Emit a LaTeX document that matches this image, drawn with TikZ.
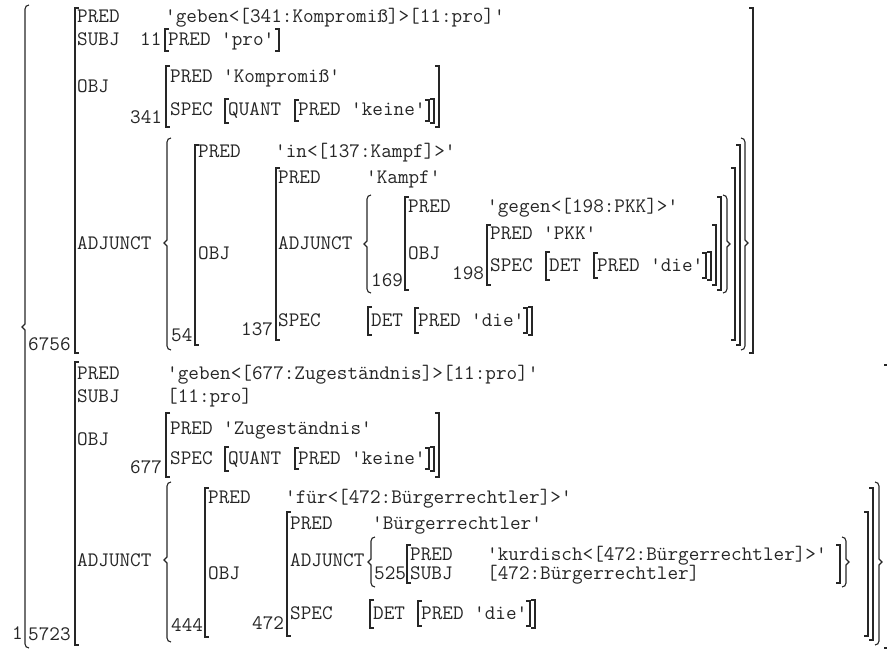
\documentclass[tikz,border=0pt]{standalone}
\usepackage{tikz}
\newcommand\myLB[3]{\draw[br] ({#1+4},#2) -| (#1,#3) -- ({#1+4},#3);}
\newcommand\myRB[3]{\draw[br] ({#1-4},#2) -| (#1,#3) -- ({#1-4},#3);}
\newcommand\myLC[4]{\draw[br] ({#1+4},#2) to[out=180,in=90] (#1,{#2+4}) -- (#1,{#4-3}) -- ({#1-3},#4) -- (#1,{#4+3}) -- (#1,{#3-4}) to[out=-90,in=180] ({#1+4},#3);}
\newcommand\myRC[4]{\draw[br] ({#1-4},#2) to[out=0,in=90] (#1,{#2+4}) -- (#1,{#4-3}) -- ({#1+3},#4) -- (#1,{#4+3}) -- (#1,{#3-4}) to[out=-90,in=0] ({#1-4},#3);}
\begin{document}
\begin{tikzpicture}[x=1pt,y=-1pt,
  t/.style={inner sep=0pt,anchor=base west,yshift=-6pt,text=black!85,font=\fontsize{20.6}{24}\selectfont\ttfamily},
  br/.style={line width=1.1pt,draw=black!85,line join=miter}]
\useasboundingbox (0,0) rectangle (887,650);
% outer brace
\myLC{25}{5}{648}{327}
\node[t] (one) at (12,633) {1};
% ===== top f-structure 6756 =====
\node[t] (n6756) at (28,344) {6756};
\myLB{75}{8}{353}
\node[t] (a1) at (77,17) {PRED};
\node[t] (a1v) at (165,17) {'geben<[341:Kompromiß]>[11:pro]'};
\node[t] (a2) at (77,40) {SUBJ};
\node[t] (n11) at (140,40) {11};
\myLB{165}{29}{51}
\node[t] (a2v) at (168,40) {PRED 'pro'};
\myRB{279}{29}{51}
\node[t] (a3) at (77,87) {OBJ};
\node[t] (n341) at (130,118) {341};
\myLB{166}{66}{127}
\node[t] (b1) at (170,77) {PRED 'Kompromiß'};
\node[t] (b2) at (170,110) {SPEC};
\myLB{225}{99}{123}
\node[t] (b3) at (228,110) {QUANT};
\myLB{295}{100}{121}
\node[t] (b4) at (298,110) {PRED 'keine'};
\myRB{429}{100}{121}
\myRB{434}{99}{123}
\myRB{439}{66}{127}
\node[t] (a4) at (77,243) {ADJUNCT};
\myLC{167}{138}{350}{243}
\node[t] (n54) at (171,335) {54};
\myLB{195}{145}{345}
\node[t] (c1) at (198,152) {PRED};
\node[t] (c1v) at (275,152) {'in<[137:Kampf]>'};
\node[t] (c2) at (198,253) {OBJ};
\node[t] (n137) at (241,329) {137};
\myLB{276}{168}{340}
\node[t] (d1) at (278,178) {PRED};
\node[t] (d1v) at (366,178) {'Kampf'};
\node[t] (d2) at (278,244) {ADJUNCT};
\myLC{367}{195}{293}{244}
\node[t] (n169) at (371,280) {169};
\myLB{405}{197}{290}
\node[t] (e1) at (408,207) {PRED};
\node[t] (e1v) at (487,207) {'gegen<[198:PKK]>'};
\node[t] (e2) at (408,253) {OBJ};
\node[t] (n198) at (452,273) {198};
\myLB{487}{225}{285}
\node[t] (f1) at (490,234) {PRED 'PKK'};
\node[t] (f2) at (490,265) {SPEC};
\myLB{546}{252}{280}
\node[t] (f3) at (549,265) {DET};
\myLB{594}{253}{278}
\node[t] (f4) at (597,265) {PRED 'die'};
\myRB{706}{253}{278}
\myRB{711}{252}{280}
\myRB{716}{225}{285}
\myRB{721}{197}{290}
\myRC{727}{195}{293}{244}
\node[t] (d3) at (278,320) {SPEC};
\myLB{368}{307}{335}
\node[t] (g1) at (371,320) {DET};
\myLB{415}{308}{333}
\node[t] (g2) at (418,320) {PRED 'die'};
\myRB{527}{308}{333}
\myRB{532}{307}{335}
\myRB{735}{168}{340}
\myRB{740}{145}{345}
\myRC{745}{138}{350}{243}
\myRB{753}{8}{353}
% ===== bottom f-structure 5723 =====
\node[t] (n5723) at (28,634) {5723};
\myLB{75}{362}{645}
\node[t] (h1) at (77,373) {PRED};
\node[t] (h1v) at (167,373) {'geben<[677:Zugeständnis]>[11:pro]'};
\node[t] (h2) at (77,396) {SUBJ};
\node[t] (h2v) at (167,396) {[11:pro]};
\node[t] (h3) at (77,439) {OBJ};
\node[t] (n677) at (130,467) {677};
\myLB{166}{413}{477}
\node[t] (i1) at (170,428) {PRED 'Zugeständnis'};
\node[t] (i2) at (170,458) {SPEC};
\myLB{225}{447}{471}
\node[t] (i3) at (228,458) {QUANT};
\myLB{295}{448}{469}
\node[t] (i4) at (298,458) {PRED 'keine'};
\myRB{429}{448}{469}
\myRB{434}{447}{471}
\myRB{439}{413}{477}
\node[t] (h4) at (77,560) {ADJUNCT};
\myLC{167}{482}{642}{560}
\node[t] (n444) at (171,625) {444};
\myLB{205}{488}{637}
\node[t] (j1) at (208,497) {PRED};
\node[t] (j1v) at (285,497) {'für<[472:Bürgerrechtler]>'};
\node[t] (j2) at (208,573) {OBJ};
\node[t] (n472) at (252,623) {472};
\myLB{287}{512}{636}
\node[t] (k1) at (290,523) {PRED};
\node[t] (k1v) at (372,523) {'Bürgerrechtler'};
\node[t] (k2) at (290,560) {ADJUNCT};
\myLC{371}{537}{587}{562}
\node[t] (n525) at (374,573) {525};
\myLB{407}{545}{583}
\node[t] (l1) at (410,554) {PRED};
\node[t] (l1v) at (487,554) {'kurdisch<[472:Bürgerrechtler]>'};
\node[t] (l2) at (410,573) {SUBJ};
\node[t] (l2v) at (487,573) {[472:Bürgerrechtler]};
\node[t] (k3) at (290,613) {SPEC};
\myLB{370}{600}{628}
\node[t] (m1) at (373,613) {DET};
\myLB{418}{601}{626}
\node[t] (m2) at (421,613) {PRED 'die'};
\myRB{530}{601}{626}
\myRB{535}{600}{628}
\myRB{840}{545}{583}
\myRC{846}{537}{587}{562}
\myRB{868}{512}{636}
\myRB{873}{488}{640}
\myRC{879}{482}{645}{562}
\draw[br] (884,365) -- (887,365);
\draw[br] (884,648) -- (887,648);
\end{tikzpicture}
\end{document}
